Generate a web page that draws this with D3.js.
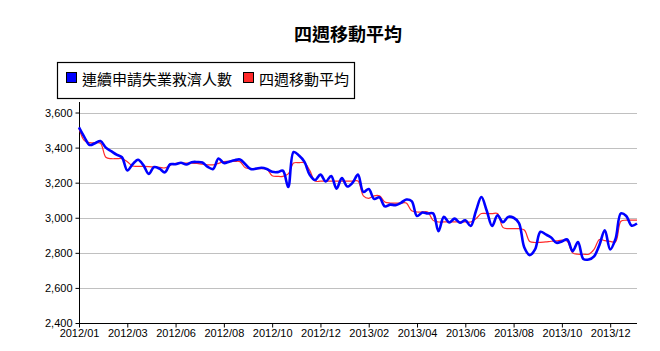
<!DOCTYPE html>
<meta charset="utf-8">
<script src="https://d3js.org/d3.v7.min.js"></script>
<style>
  body { margin: 0; background: #fff; }
  text { font-family: "Liberation Sans", Arial, sans-serif; }
  .cjk { font-family: "Noto Sans CJK TC", "Noto Sans CJK SC", sans-serif; }
</style>
<div id="chart"></div>
<script>

// weekly values
var claims = [3515,3460,3415,3425,3437,3400,3380,3360,3345,3270,
  3305,3331,3300,3250,3289,3280,3259,3305,3305,3314,
  3304,3317,3318,3315,3290,3278,3338,3312,3320,3328,
  3332,3305,3278,3280,3285,3278,3262,3260,3268,3175,
  3375,3355,3320,3245,3215,3246,3207,3238,3166,3226,
  3178,3200,3246,3147,3164,3108,3116,3065,3075,3072,
  3085,3104,3095,3010,3030,3024,3025,2923,3005,2973,
  2995,2972,2986,2953,3040,3118,3040,2953,3014,2975,
  3005,3000,2970,2830,2787,2820,2920,2905,2887,2857,
  2865,2876,2810,2862,2765,2762,2780,2845,2929,2820,
  2880,3025,3010,2955,2967]

var avg4 = [3510,3440,3428,3428,3425,3345,3337,3337,3337,3320,
  3295,3293,3293,3292,3290,3287,3284,3300,3310,3312,
  3312,3312,3310,3305,3302,3302,3310,3320,3321,3321,
  3320,3285,3280,3280,3280,3278,3240,3236,3236,3250,
  3312,3314,3314,3270,3209,3209,3209,3209,3209,3209,
  3209,3209,3209,3125,3111,3125,3125,3090,3084,3084,
  3084,3084,3040,3033,3033,3033,2985,2976,2976,2976,
  2976,2976,2976,2976,2995,3024,3024,3024,3024,2945,
  2938,2938,2938,2930,2865,2859,2860,2862,2866,2868,
  2872,2866,2800,2792,2792,2792,2820,2876,2870,2865,
  2862,2980,2986,2986,2986]

var tickLabels = ["2012/01","2012/03","2012/06","2012/08","2012/10","2012/12",
  "2013/02","2013/04","2013/06","2013/08","2013/10","2013/12"]
var tickEvery = 9
var yTicks = [2400, 2600, 2800, 3000, 3200, 3400, 3600]

var seriesNames = ["連續申請失業救濟人數", "四週移動平均"]
var seriesColors = ["#0000ff", "#ff2a2a"]

var width = 660, height = 351
var margin = {top: 102, right: 23, bottom: 28, left: 79}

var svg = d3.select("#chart")
  .append("svg")
    .attr("width", width)
    .attr("height", height)

var x = d3.scaleLinear()
  .domain([0, claims.length - 1])
  .range([margin.left, width - margin.right])

var y = d3.scaleLinear()
  .domain([2400, 3660])
  .range([height - margin.bottom, margin.top])

// grid lines
svg.append("g")
  .selectAll("line")
  .data(yTicks.slice(1))
  .enter()
  .append("line")
    .attr("x1", x.range()[0])
    .attr("x2", x.range()[1])
    .attr("y1", function(d) { return Math.round(y(d)) + 0.5 })
    .attr("y2", function(d) { return Math.round(y(d)) + 0.5 })
    .attr("stroke", "#c0c0c0")
    .attr("stroke-width", 1)

// y axis
var yAxis = svg.append("g")
  .attr("transform", "translate(" + (margin.left + 0.5) + ",0)")
  .call(d3.axisLeft(y).tickValues(yTicks).tickSize(4).tickPadding(3)
    .tickFormat(d3.format(",")))
yAxis.selectAll("text").attr("font-size", 11).attr("fill", "#000")
yAxis.selectAll("line").attr("stroke", "#000")
yAxis.select(".domain").attr("stroke", "#000")
  .attr("d", "M0," + y.range()[1] + "V" + y.range()[0])

// x axis
var xAxis = svg.append("g")
  .attr("transform", "translate(0," + (Math.round(y(2400)) + 0.5) + ")")
  .call(d3.axisBottom(x)
    .tickValues(tickLabels.map(function(d, i) { return i * tickEvery }))
    .tickFormat(function(d) { return tickLabels[d / tickEvery] })
    .tickSize(4).tickPadding(2))
xAxis.selectAll("text").attr("font-size", 11).attr("fill", "#000")
xAxis.selectAll("line").attr("stroke", "#000")
xAxis.select(".domain").attr("stroke", "#000")
  .attr("d", "M" + x.range()[0] + ",0H" + x.range()[1])

var line = d3.line()
  .x(function(d, i) { return x(i) })
  .y(function(d) { return y(d) })
  .curve(d3.curveCatmullRom)

svg.append("path")
  .datum(avg4)
  .attr("d", line)
  .attr("fill", "none")
  .attr("stroke", seriesColors[1])
  .attr("stroke-width", 1.2)

svg.append("path")
  .datum(claims)
  .attr("d", line)
  .attr("fill", "none")
  .attr("stroke", seriesColors[0])
  .attr("stroke-width", 2.6)
  .attr("stroke-linejoin", "round")

// title
svg.append("text")
  .attr("class", "cjk")
  .attr("x", 348)
  .attr("y", 41)
  .attr("text-anchor", "middle")
  .attr("font-size", 18)
  .attr("font-weight", "bold")
  .text("四週移動平均")

// legend
var legend = svg.append("g")
legend.append("rect")
  .attr("x", 57.5).attr("y", 62.5)
  .attr("width", 297).attr("height", 36)
  .attr("fill", "#fff")
  .attr("stroke", "#000")
  .attr("stroke-width", 1.2)

var legendX = [66, 243]
seriesNames.forEach(function(name, i) {
  legend.append("rect")
    .attr("x", legendX[i] + 0.5).attr("y", 72.5)
    .attr("width", 10).attr("height", 10)
    .attr("fill", seriesColors[i])
    .attr("stroke", "#000")
  legend.append("text")
    .attr("class", "cjk")
    .attr("x", legendX[i] + 16)
    .attr("y", 85)
    .attr("font-size", 15)
    .text(name)
})

</script>
